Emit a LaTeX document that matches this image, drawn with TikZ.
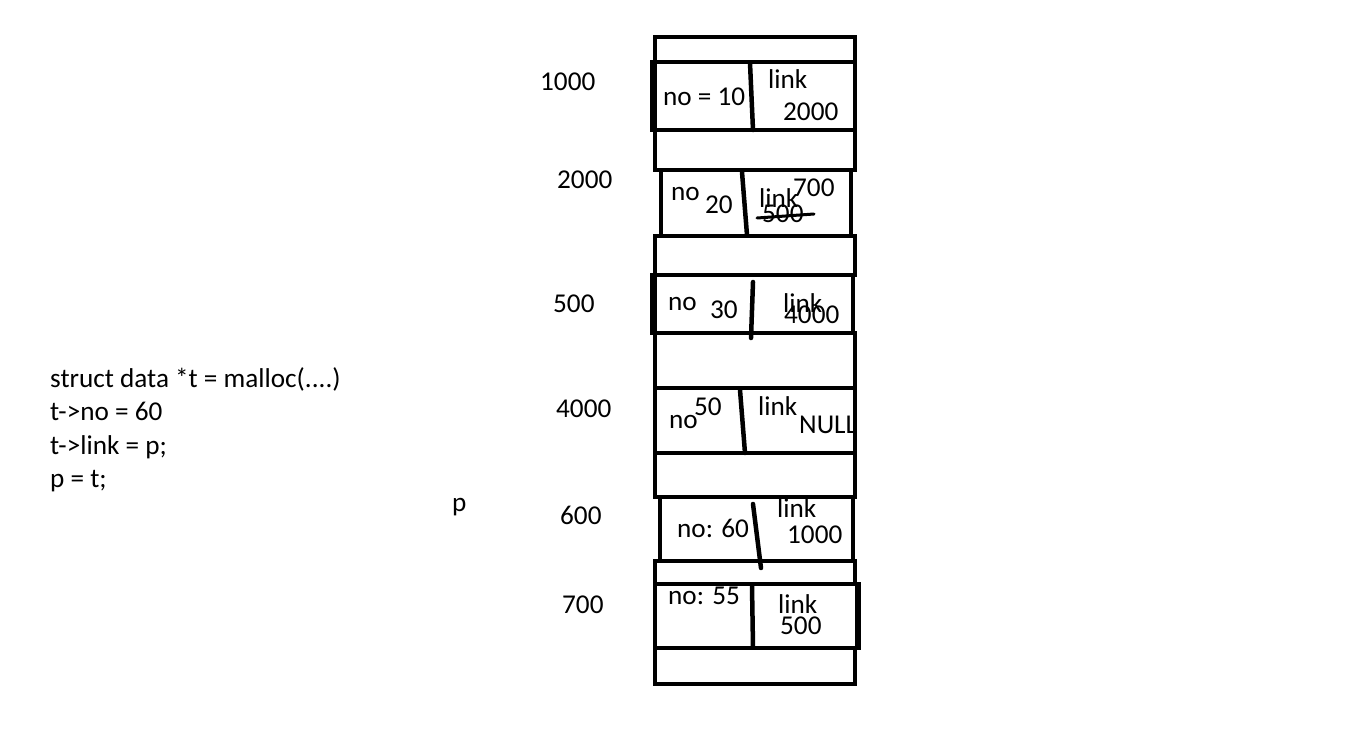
\documentclass[tikz,border=0pt]{standalone}
\usepackage{fontspec}
\setmainfont{Carlito}
\begin{document}
\begin{tikzpicture}
[x=1pt,y=-1pt,%
  every node/.style={inner sep=0pt,anchor=base west},%
  cell/.style={line width=4.5pt},%
  wall/.style={line width=6.5pt},%
  divider/.style={line width=4.5pt,line cap=round}]
\fontsize{27.2}{32}\selectfont
\useasboundingbox (0,0) rectangle (1347,747);
% code
\node (code1) at (50,387) {struct data *t = malloc(....)};
\node (code2) at (50,420) {t->no = 60};
\node (code3) at (50,454) {t->link = p;};
\node (code4) at (50,487) {p = t;};
\node (p) at (452,511) {p};
% addresses
\node (a1000) at (540,90) {1000};
\node (a2000) at (557,188) {2000};
\node (a500) at (553,312) {500};
\node (a4000) at (556,417) {4000};
\node (a600) at (560,524) {600};
\node (a700) at (562,613) {700};
% fields
\node (no1000) at (663,105) {no = 10};
\node (ln1000) at (768,88) {link};
\node (v1000) at (783,120) {2000};
\node (no2000) at (671,200) {no};
\node (n2000) at (705,213) {20};
\node (ln2000) at (759,207) {link};
\node (new2000) at (793,196) {700};
\node (old2000) at (762,222) {500};
\node (no500) at (668,310) {no};
\node (n500) at (710,318) {30};
\node (ln500) at (783,312) {link};
\node (v500) at (784,323) {4000};
\node (no4000) at (669,428) {no};
\node (n4000) at (694,415) {50};
\node (ln4000) at (758,415) {link};
\node (v4000) at (799,433) {NULL};
\node (no600) at (677,537) {no: 60};
\node (ln600) at (777,517) {link};
\node (v600) at (787,543) {1000};
\node (no700) at (668,604) {no: 55};
\node (ln700) at (778,613) {link};
\node (v700) at (780,634) {500};
% cells
\fill[white] (855,388) rectangle (870,453);
\foreach \ya/\yb in {37/62,130/170,236/275,333/388,453/497,561/584,648/684}
  \draw[cell] (655,\ya) rectangle (855,\yb);
\draw[cell] (655,62) rectangle (855,130);
\draw[cell] (661,170) rectangle (851,236);
\draw[cell] (655,275) rectangle (853,333);
\draw[cell] (655,388) rectangle (855,453);
\draw[cell] (660,497) rectangle (853,561);
\draw[cell] (655,584) rectangle (857,648);
\draw[wall] (653,60) -- (653,132);
\draw[wall] (653,273) -- (653,335);
\draw[wall] (858,582) -- (858,650);
% dividers
\draw[divider] (750,63) -- (753,130);
\draw[divider] (742,172) -- (747,235);
\draw[divider] (753,282) -- (751,338);
\draw[divider] (740,390) -- (745,453);
\draw[divider] (753,504) -- (761,568);
\draw[divider] (752,586) -- (753,647);
\draw[line width=3pt,line cap=round] (757,218) -- (814,214);
\end{tikzpicture}
\end{document}
